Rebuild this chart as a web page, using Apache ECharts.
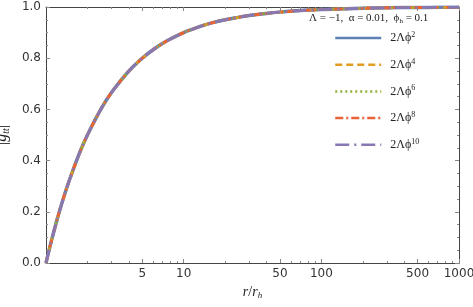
<!DOCTYPE html>
<html><head><meta charset="utf-8">
<script src="https://cdn.jsdelivr.net/npm/echarts@6/dist/echarts.min.js"></script>
<style>html,body{margin:0;padding:0;background:#fff}#c{width:473px;height:307px}</style>
</head><body><div id="c"></div>
<script>
// r / r_h sample points and |g_tt|
const rVals = [1, 1.05, 1.1, 1.2, 1.3, 1.4, 1.5, 1.75, 2, 2.5, 3, 4, 5, 6, 7, 8, 10, 13, 16, 20, 30, 40, 50, 70, 100, 150, 200, 300, 500, 700, 1000];
const gPhi2  = [0, 0.048, 0.091, 0.167, 0.231, 0.286, 0.333, 0.429, 0.5, 0.6, 0.667, 0.75, 0.8, 0.833, 0.857, 0.875, 0.9, 0.923, 0.938, 0.95, 0.967, 0.975, 0.98, 0.986, 0.99, 0.993, 0.995, 0.997, 0.998, 0.9986, 0.999];
const gPhi4  = gPhi2.slice();
const gPhi6  = gPhi2.slice();
const gPhi8  = gPhi2.slice();
const gPhi10 = gPhi2.slice();
const seriesNames = ['2Λϕ^2', '2Λϕ^4', '2Λϕ^6', '2Λϕ^8', '2Λϕ^10'];
const seriesValues = [gPhi2, gPhi4, gPhi6, gPhi8, gPhi10];
const xLabelTicks = [5, 10, 50, 100, 500, 1000];
const xMinorTicks = [2, 3, 4, 6, 7, 8, 9, 20, 30, 40, 60, 70, 80, 90, 200, 300, 400, 600, 700, 800, 900];

const colors = ['#5E81B5', '#E19C24', '#8FB032', '#EB6235', '#8778B3'];
const dashes = ['solid', [7, 4], [2, 3], [8, 3, 2, 3], [14, 5, 2, 5]];

const chart = echarts.init(document.getElementById('c'), null, {renderer: 'canvas'});
const frame = {lineStyle: {color: '#444', width: 1}};
const tickStyle = {lineStyle: {color: '#888', width: 1}};
const labelFont = {fontFamily: 'DejaVu Sans', fontSize: 12, color: '#333'};
const serif = 'Liberation Serif';

const base = {type: 'log', logBase: 10, min: 1, max: 1000, gridIndex: 0, splitLine: {show: false}};
chart.setOption({
  animation: false,
  grid: {left: 46, right: 14, top: 7, bottom: 44, show: false, containLabel: false, outerBoundsMode: 'none'},
  title: {
    text: '{a|Λ = −1,  α = 0.01,  ϕ}{s|h}{a| = 0.1}',
    left: 309, top: 12, padding: 0,
    textStyle: {fontWeight: 'normal', rich: {
      a: {fontFamily: serif, fontSize: 11, fontWeight: 'normal', color: '#222'},
      s: {fontFamily: serif, fontSize: 7, fontWeight: 'normal', color: '#222', verticalAlign: 'bottom', padding: [6, 0, 0, 0]}
    }}
  },
  legend: {
    orient: 'vertical', left: 334, top: 31, padding: 0, itemWidth: 46, itemHeight: 14, itemGap: 13.7,
    data: seriesNames,
    itemStyle: {color: 'transparent', borderWidth: 0, opacity: 0},
    lineStyle: {width: 2.5},
    formatter: n => '{a|2Λϕ}{p|' + n.split('^')[1] + '}',
    textStyle: {padding: [0, 0, 0, 4], rich: {
      a: {fontFamily: serif, fontSize: 12, color: '#222'},
      p: {fontFamily: serif, fontSize: 8, color: '#222', verticalAlign: 'top', padding: [0, 0, 6, 0]}
    }}
  },
  xAxis: [
    Object.assign({}, base, {
      position: 'bottom', name: '{i|r}{n|/}{i|r}{s|h}', nameLocation: 'middle', nameGap: 20,
      nameTextStyle: {rich: {
        i: {fontFamily: serif, fontStyle: 'italic', fontSize: 14, color: '#222'},
        n: {fontFamily: serif, fontSize: 14, color: '#222'},
        s: {fontFamily: serif, fontStyle: 'italic', fontSize: 9, color: '#222', verticalAlign: 'bottom', padding: [7, 0, 0, 0]}
      }},
      axisLine: frame,
      axisTick: Object.assign({show: true, inside: true, length: 4, customValues: xLabelTicks}, tickStyle),
      axisLabel: Object.assign({customValues: xLabelTicks, margin: 5, formatter: v => String(Math.round(v))}, labelFont)
    }),
    Object.assign({}, base, {
      position: 'bottom', axisLine: {show: false}, axisLabel: {show: false},
      axisTick: Object.assign({show: true, inside: true, length: 2, customValues: xMinorTicks}, tickStyle)
    }),
    Object.assign({}, base, {
      position: 'top', axisLine: frame, axisLabel: {show: false},
      axisTick: Object.assign({show: true, inside: true, length: 4, customValues: xLabelTicks}, tickStyle)
    }),
    Object.assign({}, base, {
      position: 'top', axisLine: {show: false}, axisLabel: {show: false},
      axisTick: Object.assign({show: true, inside: true, length: 2, customValues: xMinorTicks}, tickStyle)
    })
  ],
  yAxis: [
    {
      type: 'value', min: 0, max: 1, interval: 0.2, position: 'left',
      name: '{b||}{i|g}{s|tt}{b||}', nameLocation: 'middle', nameGap: 30, nameRotate: 90,
      nameTextStyle: {rich: {
        b: {fontFamily: serif, fontSize: 17, color: '#222'},
        i: {fontFamily: serif, fontStyle: 'italic', fontSize: 16, color: '#222'},
        s: {fontFamily: serif, fontStyle: 'italic', fontSize: 10, color: '#222', verticalAlign: 'bottom', padding: [8, 0, 0, 0]}
      }},
      axisLine: {show: true, lineStyle: {color: '#444', width: 1}},
      axisTick: Object.assign({show: true, inside: true, length: 4}, tickStyle),
      minorTick: {show: true, splitNumber: 4, length: 2, lineStyle: {color: '#888'}},
      splitLine: {show: false},
      axisLabel: Object.assign({margin: 5, formatter: v => v.toFixed(1)}, labelFont)
    },
    {
      type: 'value', min: 0, max: 1, interval: 0.2, position: 'right',
      axisLine: {show: true, lineStyle: {color: '#444', width: 1}},
      axisTick: Object.assign({show: true, inside: true, length: 4}, tickStyle),
      minorTick: {show: true, splitNumber: 4, length: 2, lineStyle: {color: '#888'}},
      splitLine: {show: false}, axisLabel: {show: false}
    }
  ],
  series: seriesNames.map((n, k) => ({
    name: n, type: 'line', xAxisIndex: 0, yAxisIndex: 0, smooth: 0.3,
    symbol: 'none', showSymbol: false,
    data: rVals.map((r, i) => [r, seriesValues[k][i]]),
    lineStyle: {color: colors[k], width: k === 0 ? 3.5 : 2.8, type: dashes[k], cap: 'butt'},
    itemStyle: {color: colors[k]},
    z: 2 + k
  }))
});
</script></body></html>
